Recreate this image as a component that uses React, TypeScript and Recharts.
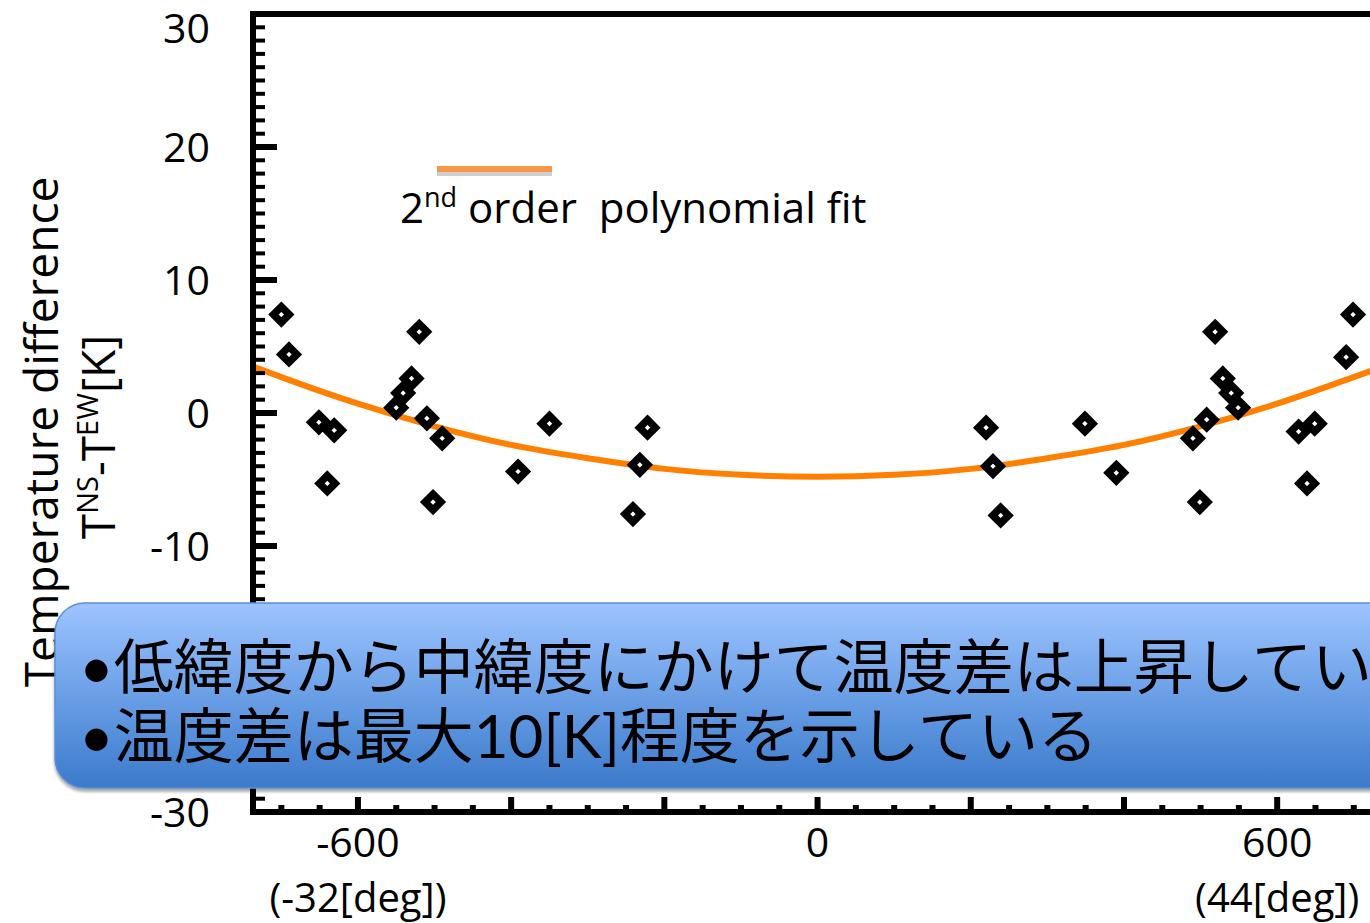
import React from 'react';
import { ComposedChart, Scatter, Line, XAxis, YAxis } from 'recharts';

const FONT = '"Open Sans", "Noto Sans CJK JP", sans-serif';
const BOX_FONT = 'Lato, "Noto Sans CJK JP", sans-serif';

// measured samples (x position, temperature difference)
const sampleX = [
  -700, -690, -651, -631, -640, -520, -530, -541, -550, -510, -490, -502, -391, -350, -232, -222, -241,
  220, 229, 239, 349, 390, 519, 529, 540, 549, 508, 490, 499, 628, 649, 639, 690, 699,
];
const sampleY = [
  7.4, 4.4, -0.7, -1.3, -5.3, 6.1, 2.6, 1.5, 0.4, -0.4, -1.9, -6.7, -4.4, -0.8, -3.9, -1.1, -7.6,
  -1.1, -4.0, -7.7, -0.8, -4.5, 6.1, 2.6, 1.5, 0.4, -0.5, -1.9, -6.7, -1.4, -0.8, -5.3, 4.2, 7.4,
];

// 2nd order fit curve
const fitX = [-737, -700, -600, -500, -400, -300, -200, -100, 0, 100, 200, 300, 400, 500, 600, 700, 729];
const fitY = [3.5, 2.7, 0.7, -1.0, -2.4, -3.4, -4.2, -4.65, -4.8, -4.65, -4.2, -3.4, -2.4, -1.0, 0.7, 2.7, 3.3];

const xLabelTicks = [-600, 0, 600];
const xLabelSub = ['(-32[deg])', '', '(44[deg])'];
// -20 sits under the callout box, so it is not labelled
const yLabelTicks = [-30, -10, 0, 10, 20, 30];

const X_DOMAIN: [number, number] = [-737, 729];
const Y_DOMAIN: [number, number] = [-30, 30];

const xTicks: number[] = [];
for (let v = -700; v <= 700; v += 50) xTicks.push(v);
const yTicks: number[] = [];
for (let v = -30; v <= 30; v += 1) yTicks.push(v);

const samples = sampleX.map((x, i) => ({ x, y: sampleY[i] }));
const fit = fitX.map((x, i) => ({ x, y: fitY[i] }));

function Diamond(props: any) {
  const { cx, cy } = props;
  const r = 7.9;
  return (
    <path
      d={`M${cx},${cy - r}L${cx + r},${cy}L${cx},${cy + r}L${cx - r},${cy}Z`}
      fill="#fff"
      stroke="#000"
      strokeWidth={7.4}
      strokeLinejoin="miter"
    />
  );
}

function BottomTick(props: any) {
  const { x, y, payload } = props;
  const v = payload.value;
  const major = v % 200 === 0;
  const i = xLabelTicks.indexOf(v);
  return (
    <g>
      <line x1={x} x2={x} y1={y} y2={y - (major ? 15 : 7)} stroke="#000" strokeWidth={6} />
      {i >= 0 && (
        <text x={x} y={y + 45} textAnchor="middle" fontSize={41} fontFamily={FONT} fill="#000">
          {v}
        </text>
      )}
      {i >= 0 && xLabelSub[i] && (
        <text x={x} y={y + 100} textAnchor="middle" fontSize={40} fontFamily={FONT} fill="#000">
          {xLabelSub[i]}
        </text>
      )}
    </g>
  );
}

function TopTick(props: any) {
  const { x, y, payload } = props;
  const major = payload.value % 200 === 0;
  return <line x1={x} x2={x} y1={y} y2={y + (major ? 18 : 8)} stroke="#000" strokeWidth={6} />;
}

function LeftTick(props: any) {
  const { x, y, payload } = props;
  const v = payload.value;
  const major = v % 10 === 0;
  return (
    <g>
      <line x1={x} x2={x + (major ? 24 : 12)} y1={y} y2={y} stroke="#000" strokeWidth={major ? 6 : 4} />
      {yLabelTicks.includes(v) && (
        <text x={x - 43} y={y + (v === 30 ? 29 : 15)} textAnchor="end" fontSize={41} fontFamily={FONT} fill="#000">
          {v}
        </text>
      )}
    </g>
  );
}

function RightTick(props: any) {
  const { x, y, payload } = props;
  const major = payload.value % 10 === 0;
  return <line x1={x} x2={x - (major ? 20 : 9)} y1={y} y2={y} stroke="#000" strokeWidth={major ? 6 : 3} />;
}

const frame = { stroke: '#000', strokeWidth: 6, strokeLinecap: 'square' as const };

export default function App() {
  return (
    <div style={{ position: 'absolute', left: 0, top: 0, width: 1370, height: 923, overflow: 'hidden', background: '#fff' }}>
      <ComposedChart width={1400} height={923} margin={{ top: 13, right: 23, bottom: 11, left: 193 }}>
        <XAxis
          xAxisId="b"
          type="number"
          dataKey="x"
          domain={X_DOMAIN}
          ticks={xTicks}
          interval={0}
          tick={<BottomTick />}
          tickSize={0}
          tickMargin={0}
          tickLine={false}
          axisLine={frame}
          height={100}
        />
        <XAxis
          xAxisId="t"
          orientation="top"
          type="number"
          dataKey="x"
          domain={X_DOMAIN}
          ticks={xTicks}
          interval={0}
          tick={<TopTick />}
          tickSize={0}
          tickMargin={0}
          tickLine={false}
          axisLine={frame}
          height={1}
        />
        <YAxis
          yAxisId="l"
          type="number"
          dataKey="y"
          domain={Y_DOMAIN}
          ticks={yTicks}
          interval={0}
          tick={<LeftTick />}
          tickSize={0}
          tickMargin={0}
          tickLine={false}
          axisLine={frame}
          width={60}
        />
        <YAxis
          yAxisId="r"
          orientation="right"
          type="number"
          dataKey="y"
          domain={Y_DOMAIN}
          ticks={yTicks}
          interval={0}
          tick={<RightTick />}
          tickSize={0}
          tickMargin={0}
          tickLine={false}
          axisLine={frame}
          width={1}
        />
        <Scatter xAxisId="b" yAxisId="l" data={samples} dataKey="y" shape={Diamond} isAnimationActive={false} />
        <Line
          xAxisId="b"
          yAxisId="l"
          data={fit}
          dataKey="y"
          type="monotone"
          stroke="#ff8000"
          strokeWidth={6}
          dot={false}
          isAnimationActive={false}
        />
      </ComposedChart>

      <svg width={1370} height={923} style={{ position: 'absolute', left: 0, top: 0, pointerEvents: 'none' }}>
        <defs>
          <linearGradient id="boxFill" x1="0" y1="0" x2="0" y2="1">
            <stop offset="0%" stopColor="#9dc4ff" />
            <stop offset="50%" stopColor="#6a9fe6" />
            <stop offset="100%" stopColor="#3b7acb" />
          </linearGradient>
          <filter id="boxShadow" x="-5%" y="-5%" width="110%" height="115%">
            <feDropShadow dx="0" dy="3" stdDeviation="1.5" floodColor="#000" floodOpacity="0.35" />
          </filter>
        </defs>

        {/* axis title */}
        <text transform="translate(58,432) rotate(-90)" textAnchor="middle" fontSize={46} fontFamily={FONT} fill="#000">
          Temperature difference
        </text>
        <text transform="translate(115,437) rotate(-90)" textAnchor="middle" fontSize={46} fontFamily={FONT} fill="#000">
          T<tspan fontSize={29} dy={-17}>NS</tspan>
          <tspan dy={17}>-T</tspan>
          <tspan fontSize={29} dy={-17}>EW</tspan>
          <tspan dy={17}>[K]</tspan>
        </text>

        {/* legend */}
        <rect x={437} y={172} width={115} height={4} fill="#cfcfcf" />
        <rect x={437} y={166} width={115} height={6} fill="#f79646" />
        <text x={400} y={223} fontSize={42} fontFamily={FONT} fill="#000" style={{ whiteSpace: 'pre' }}>
          2<tspan fontSize={27} dy={-16}>nd</tspan>
          <tspan dy={16}>{' order  polynomial fit'}</tspan>
        </text>

        {/* callout box */}
        <rect
          x={55}
          y={603}
          width={1400}
          height={185}
          rx={30}
          fill="url(#boxFill)"
          stroke="#5b8fd3"
          strokeWidth={1.5}
          filter="url(#boxShadow)"
        />
        <text x={79} y={689} fontSize={60} fontFamily={BOX_FONT} fill="#000">
          •低緯度から中緯度にかけて温度差は上昇している
        </text>
        <text x={79} y={758} fontSize={60} fontFamily={BOX_FONT} fill="#000">
          •温度差は最大10[K]程度を示している
        </text>
      </svg>
    </div>
  );
}
